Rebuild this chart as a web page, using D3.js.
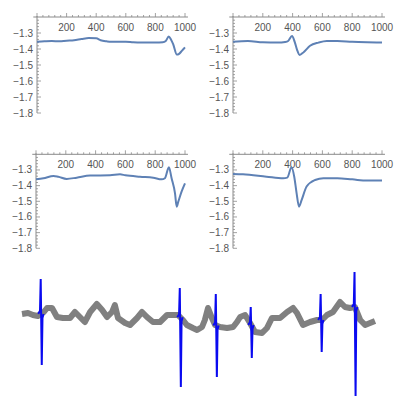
<!DOCTYPE html>
<html><head><meta charset="utf-8">
<script src="https://cdn.jsdelivr.net/npm/d3@7"></script>
<style>html,body{margin:0;padding:0;background:#fff}svg{display:block}</style>
</head><body>
<script>
// ---------- data ----------
const xTickValues = [200, 400, 600, 800, 1000];
const yTickValues = [-1.3, -1.4, -1.5, -1.6, -1.7, -1.8];

const tlX = [0,50,100,150,200,250,300,350,400,430,470,500,600,650,700,750,800,850,870,890,905,920,945,960,980,1000];
const tlY = [-1.355,-1.352,-1.35,-1.352,-1.348,-1.345,-1.338,-1.332,-1.333,-1.345,-1.352,-1.355,-1.354,-1.358,-1.36,-1.36,-1.36,-1.358,-1.35,-1.322,-1.34,-1.37,-1.435,-1.43,-1.41,-1.39];

const trX = [0,100,200,300,350,370,396,414,430,447,474,517,574,630,700,800,900,1000];
const trY = [-1.354,-1.35,-1.358,-1.36,-1.356,-1.35,-1.319,-1.355,-1.405,-1.437,-1.42,-1.38,-1.36,-1.35,-1.35,-1.355,-1.358,-1.36];

const mlX = [0,50,118,150,206,273,363,497,564,600,698,787,843,865,892,910,933,944,955,977,1000];
const mlY = [-1.36,-1.353,-1.338,-1.343,-1.357,-1.349,-1.336,-1.334,-1.328,-1.334,-1.343,-1.349,-1.36,-1.353,-1.283,-1.353,-1.449,-1.534,-1.502,-1.438,-1.385];

const mrX = [0,67,225,337,364,393,411,427,443,461,494,551,607,700,800,900,1000];
const mrY = [-1.326,-1.328,-1.343,-1.353,-1.349,-1.283,-1.343,-1.449,-1.534,-1.491,-1.406,-1.364,-1.353,-1.353,-1.36,-1.368,-1.368];

// bottom trace (time, amplitude)
const sigT = [0,17,31,45,62,71,85,99,116,136,150,164,178,193,212,227,241,255,263,272,292,306,326,340,354,371,391,411,428,442,456,467,484,496,510,518,527,538,547,561,581,598,609,618,632,646,660,680,694,708,731,751,768,779,796,816,836,850,864,881,901,915,929,943,958,972,986,1000];
const sigV = [1,2,0,-1,3,7,7,-2,-3,-3,3,-2,-7,3,11,5,-2,3,10,-3,-8,-10,-3,3,-2,-7,-7,0,0,0,-5,-10,-13,-15,-12,-5,7,-3,-10,-12,-13,-12,-7,-2,0,-8,-17,-18,-13,-3,-3,3,7,2,-10,-7,-5,-5,0,3,13,8,7,8,-5,-10,-8,-6];

const spikeT = [54, 448, 550, 649, 847, 943];
const spikeTop = [36, 27, 21, 8, 21, 43];
const spikeBottom = [-50, -72, -62, -43, -37, -81];

// ---------- drawing ----------
const W = 400, H = 406;
const svg = d3.select("body").append("svg").attr("width", W).attr("height", H);

const lineColor = "#5E81B5", axisColor = "#8a8a8a", labelColor = "#555";
const font = "'Liberation Sans', Arial, sans-serif";

const panels = [
  {xs: tlX, ys: tlY, xr: [37, 185], yr: [113, 17]},
  {xs: trX, ys: trY, xr: [233, 382], yr: [113, 17]},
  {xs: mlX, ys: mlY, xr: [36, 185], yr: [248.3, 154.3]},
  {xs: mrX, ys: mrY, xr: [233, 382], yr: [248.3, 154.3]}
];

panels.forEach(p => {
  const x = d3.scaleLinear().domain([0, 1000]).range(p.xr);
  const y = d3.scaleLinear().domain([-1.8, -1.2]).range(p.yr);
  const g = svg.append("g");
  const ax = y(-1.2);
  // x axis line
  g.append("line").attr("x1", x(-25)).attr("x2", x(1020)).attr("y1", ax).attr("y2", ax)
    .attr("stroke", axisColor).attr("stroke-width", 1);
  // y axis line
  g.append("line").attr("x1", x(0)).attr("x2", x(0)).attr("y1", ax - 1).attr("y2", y(-1.8))
    .attr("stroke", axisColor).attr("stroke-width", 1);
  // x ticks
  d3.range(0, 1001, 40).forEach(v => {
    const major = v % 200 === 0;
    g.append("line").attr("x1", x(v)).attr("x2", x(v)).attr("y1", ax).attr("y2", ax - (major ? 4 : 2))
      .attr("stroke", axisColor).attr("stroke-width", 0.8);
  });
  // y ticks
  d3.range(0, 31).forEach(i => {
    const v = -1.8 + i * 0.02;
    if (v > -1.21) return;
    const major = i % 5 === 0;
    g.append("line").attr("x1", x(0)).attr("x2", x(0) + (major ? 4 : 2)).attr("y1", y(v)).attr("y2", y(v))
      .attr("stroke", axisColor).attr("stroke-width", 0.8);
  });
  xTickValues.forEach(v => {
    g.append("text").attr("x", x(v)).attr("y", ax + 14).attr("text-anchor", "middle")
      .attr("font-family", font).attr("font-size", 10).attr("fill", labelColor).text(String(v));
  });
  yTickValues.forEach(v => {
    g.append("text").attr("x", x(0) - 4).attr("y", y(v) + 3.5).attr("text-anchor", "end")
      .attr("font-family", font).attr("font-size", 10).attr("fill", labelColor)
      .text("\u2212" + Math.abs(v).toFixed(1));
  });
  const pts = p.xs.map((d, i) => [d, p.ys[i]]);
  g.append("path").datum(pts)
    .attr("d", d3.line().x(d => x(d[0])).y(d => y(d[1])).curve(d3.curveMonotoneX))
    .attr("fill", "none").attr("stroke", lineColor).attr("stroke-width", 2).attr("stroke-linejoin", "round");
});

// bottom trace
const bx = d3.scaleLinear().domain([0, 1000]).range([22, 375]);
const by = d3.scaleLinear().domain([-50, 50]).range([365, 265]);
const sig = sigT.map((t, i) => [t, sigV[i]]);
svg.append("path").datum(sig)
  .attr("d", d3.line().x(d => bx(d[0])).y(d => by(d[1])))
  .attr("fill", "none").attr("stroke", "#808080").attr("stroke-width", 6).attr("stroke-linejoin", "round");

const baseAt = t => {
  const i = d3.bisectLeft(sigT, t);
  if (i <= 0) return sigV[0];
  const t0 = sigT[i-1], t1 = sigT[i];
  return sigV[i-1] + (sigV[i] - sigV[i-1]) * (t - t0) / (t1 - t0);
};
spikeT.forEach((t, i) => {
  const b = baseAt(t);
  const pts = [[t - 8, b], [t - 3, b + 3], [t - 1, spikeTop[i]], [t + 2, spikeBottom[i]], [t + 4, b - 4], [t + 7, b]];
  svg.append("path").datum(pts)
    .attr("d", d3.line().x(d => bx(d[0])).y(d => by(d[1])))
    .attr("fill", "none").attr("stroke", "#0a0af0").attr("stroke-width", 2);
});
</script>
</body></html>
